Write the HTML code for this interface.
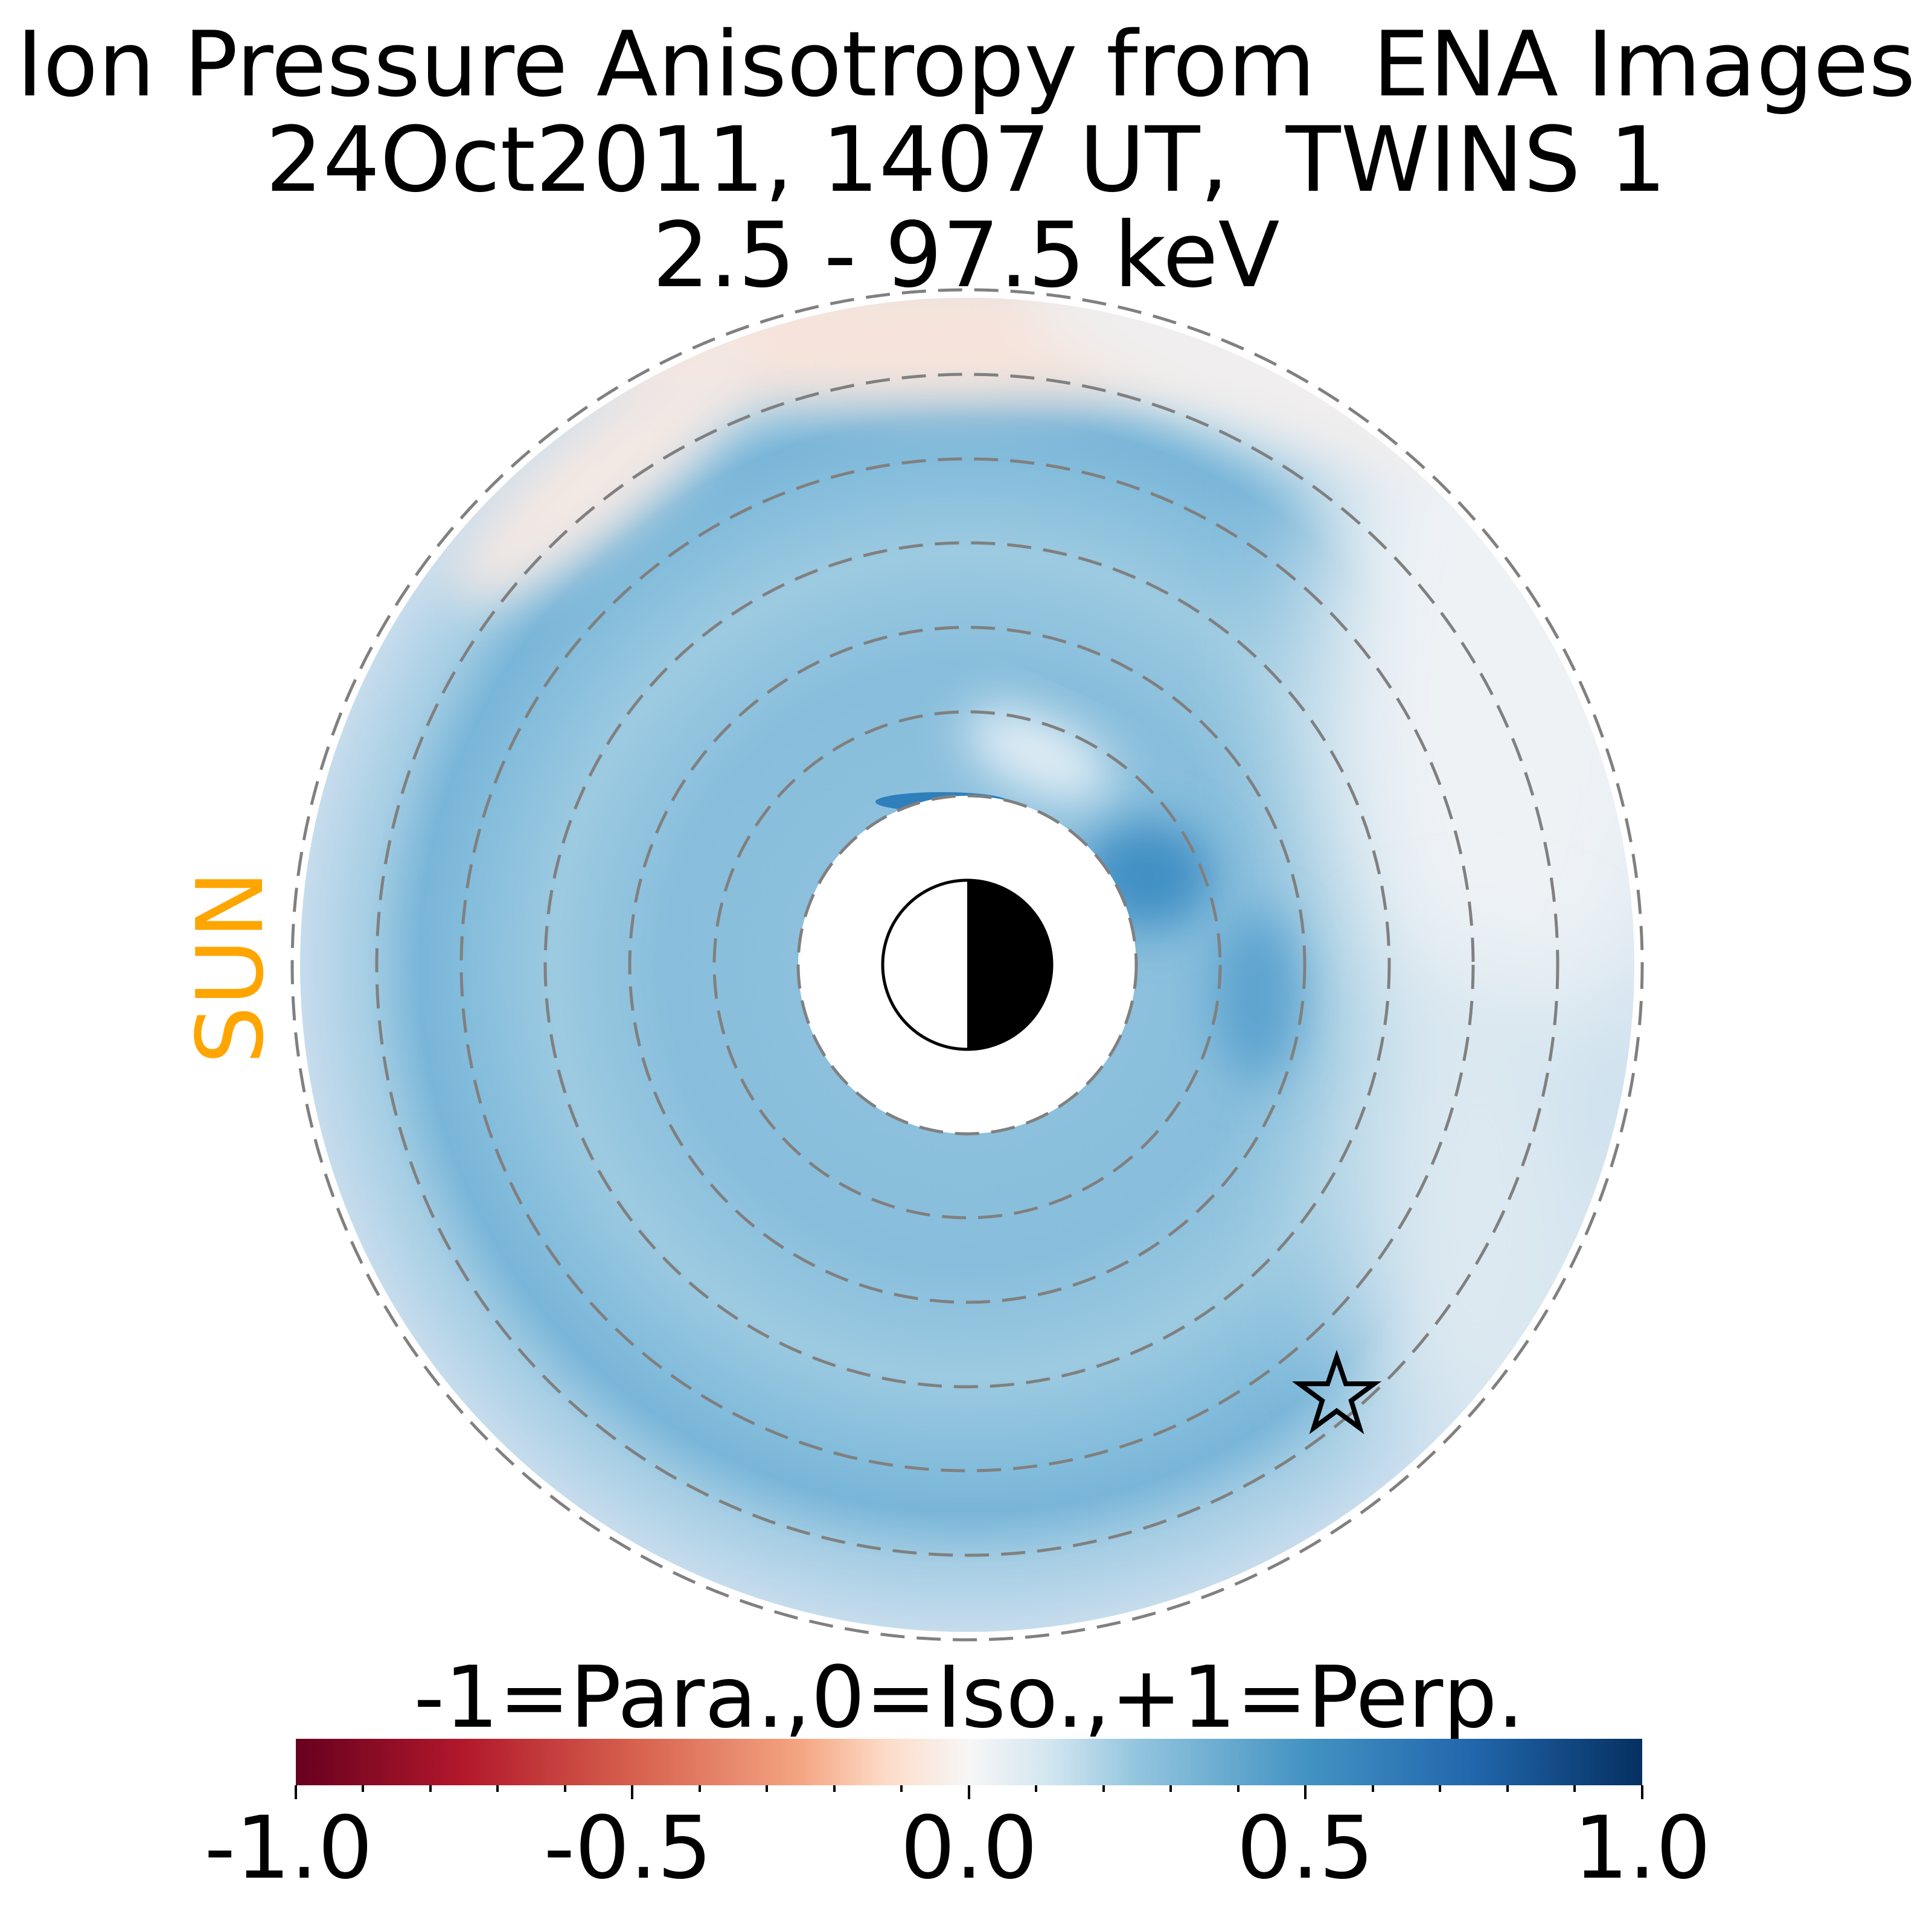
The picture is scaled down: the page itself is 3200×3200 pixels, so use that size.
<!DOCTYPE html>
<html><head><meta charset="utf-8"><style>
html,body{margin:0;padding:0;background:#fff;}
svg{display:block;}
text{font-family:"DejaVu Sans","Liberation Sans",sans-serif;white-space:pre;}
</style></head><body>
<svg width="3200" height="3200" viewBox="0 0 3200 3200" xmlns="http://www.w3.org/2000/svg">
<defs>
<radialGradient id="rg" cx="1602" cy="1598" r="1105" gradientUnits="userSpaceOnUse">
<stop offset="0.25" stop-color="#8cc0dd"/>
<stop offset="0.45" stop-color="#88bedc"/>
<stop offset="0.62" stop-color="#9ccae1"/>
<stop offset="0.72" stop-color="#8ac0dd"/>
<stop offset="0.82" stop-color="#78b5d8"/>
<stop offset="0.9" stop-color="#a6cee4"/>
<stop offset="1" stop-color="#c6dced"/>
</radialGradient>
<filter id="b1" x="-50%" y="-50%" width="200%" height="200%"><feGaussianBlur stdDeviation="90"/></filter>
<filter id="b2" x="-50%" y="-50%" width="200%" height="200%"><feGaussianBlur stdDeviation="40"/></filter>
<mask id="ann" maskUnits="userSpaceOnUse" x="0" y="0" width="3200" height="3200">
<circle cx="1602" cy="1598" r="1105" fill="#fff"/>
<circle cx="1602" cy="1598" r="280" fill="#000"/>
</mask>
<linearGradient id="cb" x1="0" x2="1" y1="0" y2="0">
<stop offset="0" stop-color="#67001f"/><stop offset="0.125" stop-color="#b2182b"/>
<stop offset="0.25" stop-color="#d6604d"/><stop offset="0.375" stop-color="#f4a582"/>
<stop offset="0.4375" stop-color="#fddbc7"/><stop offset="0.5" stop-color="#f7f7f7"/>
<stop offset="0.5625" stop-color="#d1e5f0"/><stop offset="0.625" stop-color="#92c5de"/>
<stop offset="0.75" stop-color="#4393c3"/><stop offset="0.875" stop-color="#2166ac"/>
<stop offset="1" stop-color="#053061"/>
</linearGradient>
</defs>
<text x="1600" y="158" font-size="149" text-anchor="middle" xml:space="preserve">Ion Pressure Anisotropy from  ENA Images</text>
<text x="1600" y="316" font-size="149" text-anchor="middle" xml:space="preserve">24Oct2011, 1407 UT,  TWINS 1</text>
<text x="1600" y="474" font-size="149" text-anchor="middle">2.5 - 97.5 keV</text>
<g mask="url(#ann)">
<rect x="400" y="400" width="2400" height="2400" fill="url(#rg)"/>
<ellipse cx="2500" cy="1150" rx="330" ry="650" fill="#eef2f5" filter="url(#b1)"/>
<ellipse cx="2450" cy="2000" rx="230" ry="420" fill="#dde9f1" filter="url(#b1)"/>
<ellipse cx="1500" cy="560" rx="750" ry="110" fill="#f6e4dc" filter="url(#b2)"/>
<ellipse cx="1000" cy="780" rx="320" ry="90" transform="rotate(-40 1000 780)" fill="#f3e8e4" filter="url(#b2)"/>
<ellipse cx="2100" cy="620" rx="420" ry="110" transform="rotate(20 2100 620)" fill="#f0eeee" filter="url(#b2)"/>
<ellipse cx="1900" cy="1450" rx="110" ry="90" fill="#3f8fc4" filter="url(#b2)"/>
<ellipse cx="2080" cy="1650" rx="70" ry="140" fill="#5ba3cf" filter="url(#b2)"/>
<ellipse cx="1720" cy="1250" rx="130" ry="60" transform="rotate(25 1720 1250)" fill="#e4eff6" filter="url(#b2)"/>
<ellipse cx="1560" cy="1328" rx="110" ry="16" fill="#2f7fbc"/>
</g>
<g fill="none" stroke="#808080" stroke-width="5" stroke-dasharray="40,20">
<circle cx="1602" cy="1598" r="1118"/><circle cx="1602" cy="1598" r="978"/>
<circle cx="1602" cy="1598" r="838"/><circle cx="1602" cy="1598" r="699"/>
<circle cx="1602" cy="1598" r="559"/><circle cx="1602" cy="1598" r="419"/>
<circle cx="1602" cy="1598" r="280"/>
</g>
<circle cx="1602" cy="1598" r="140" fill="#fff" stroke="#000" stroke-width="5"/>
<path d="M1602 1458a140 140 0 0 1 0 280Z" fill="#000"/>
<text x="0" y="0" font-size="152" fill="#ffa500" text-anchor="middle" transform="translate(434 1602) rotate(-90)">SUN</text>
<polygon points="2214,2248 2229,2292 2276,2292 2238,2320 2252,2365 2214,2337 2176,2365 2190,2320 2152,2292 2199,2292" fill="none" stroke="#000" stroke-width="8" stroke-linejoin="miter"/>
<text x="1605" y="2860" font-size="141" text-anchor="middle">-1=Para.,0=Iso.,+1=Perp.</text>
<rect x="490" y="2880" width="2230" height="77" fill="url(#cb)"/>
<g stroke="#000" stroke-width="4">
<line x1="490" y1="2957" x2="490" y2="2980"/><line x1="1047" y1="2957" x2="1047" y2="2980"/>
<line x1="1605" y1="2957" x2="1605" y2="2980"/><line x1="2162" y1="2957" x2="2162" y2="2980"/>
<line x1="2720" y1="2957" x2="2720" y2="2980"/>
<line x1="601" y1="2957" x2="601" y2="2968"/><line x1="713" y1="2957" x2="713" y2="2968"/>
<line x1="824" y1="2957" x2="824" y2="2968"/><line x1="936" y1="2957" x2="936" y2="2968"/>
<line x1="1159" y1="2957" x2="1159" y2="2968"/><line x1="1270" y1="2957" x2="1270" y2="2968"/>
<line x1="1382" y1="2957" x2="1382" y2="2968"/><line x1="1493" y1="2957" x2="1493" y2="2968"/>
<line x1="1716" y1="2957" x2="1716" y2="2968"/><line x1="1828" y1="2957" x2="1828" y2="2968"/>
<line x1="1939" y1="2957" x2="1939" y2="2968"/><line x1="2051" y1="2957" x2="2051" y2="2968"/>
<line x1="2274" y1="2957" x2="2274" y2="2968"/><line x1="2385" y1="2957" x2="2385" y2="2968"/>
<line x1="2497" y1="2957" x2="2497" y2="2968"/><line x1="2608" y1="2957" x2="2608" y2="2968"/>
</g>
<g font-size="143" text-anchor="middle">
<text x="478" y="3110">-1.0</text><text x="1040" y="3110">-0.5</text>
<text x="1605" y="3110">0.0</text><text x="2162" y="3110">0.5</text>
<text x="2720" y="3110">1.0</text>
</g>
</svg>
</body></html>
